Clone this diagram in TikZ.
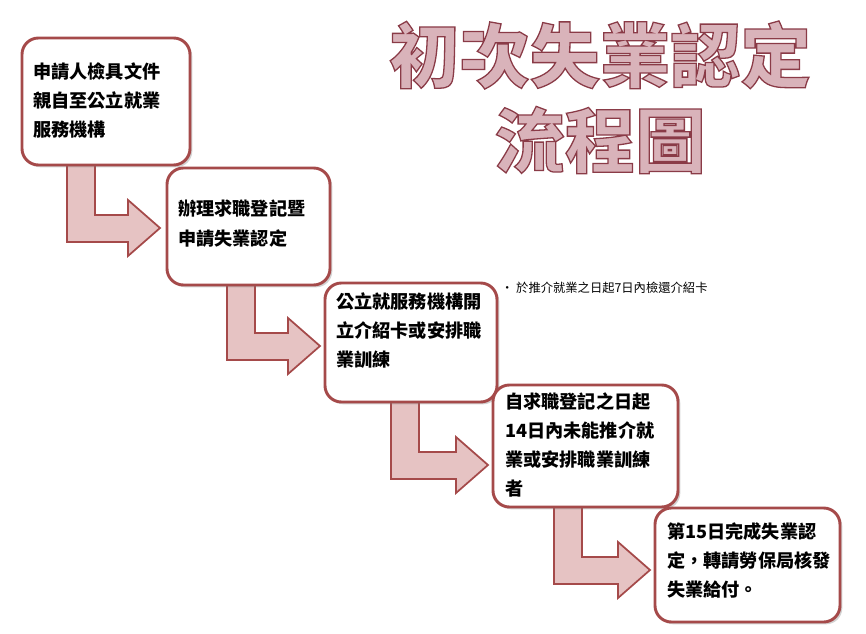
\documentclass[tikz,border=0pt]{standalone}
\usepackage{fontspec}
\setmainfont{Noto Sans CJK TC}
\newfontfamily\titlefont{Noto Sans CJK TC}
\usetikzlibrary{positioning,shadows}
\definecolor{boxred}{HTML}{A54A4A}
\definecolor{arrowpink}{HTML}{E6C3C3}
\definecolor{titlepink}{HTML}{D9B3BA}
\tikzset{
  stepbox/.style={draw=boxred,line width=2.5pt,fill=white,rounded corners=14pt,
    drop shadow={shadow xshift=2pt,shadow yshift=-2pt,opacity=.35}},
  steptext/.style={anchor=north west,align=left,font=\bfseries\fontsize{15.5}{25}\selectfont,
    inner sep=0pt},
  titletext/.style={font=\titlefont\bfseries\fontsize{60}{70}\selectfont,text=titlepink},
  bentarrow/.style={draw=boxred,line width=1.5pt,fill=arrowpink,line join=miter}
}
\newcommand{\bent}[3]{% #1 stem left x, #2 top y, #3 tip x
  \draw[bentarrow] (#1,#2) -- (#1+28,#2) -- (#1+28,#2+50) -- (#3-32,#2+50)
    -- (#3-32,#2+35) -- (#3,#2+63) -- (#3-32,#2+91) -- (#3-32,#2+77)
    -- (#1,#2+77) -- cycle;}
\newcommand{\outlined}[1]{\special{pdf:literal 2 Tr 1.1 w 0.54 0.23 0.28 RG}#1\special{pdf:literal 0 Tr}}
\begin{document}
\begin{tikzpicture}[x=0.03cm,y=-0.03cm]
\useasboundingbox (0,0) rectangle (866,633);
% title
\node[titletext] (title1) at (600,55) {\outlined{初次失業認定}};
\node[titletext] (title2) at (600,140) {\outlined{流程圖}};
% arrows
\bent{67}{165}{160}
\bent{227}{283}{320}
\bent{391}{402}{488}
\bent{554}{507}{650}
% boxes
\draw[stepbox] (22,38) rectangle (190,165);
\draw[stepbox] (167,168) rectangle (330,285);
\draw[stepbox] (325,283) rectangle (497,402);
\draw[stepbox] (493,385) rectangle (678,507);
\draw[stepbox] (655,508) rectangle (840,622);
% texts
\node[steptext] (s1) at (33,62) {申請人檢具文件\\親自至公立就業\\服務機構};
\node[steptext] (s2) at (178,200) {辦理求職登記暨\\申請失業認定};
\node[steptext] (s3) at (336,292) {公立就服務機構開\\立介紹卡或安排職\\業訓練};
\node[steptext] (s4) at (505,392) {自求職登記之日起\\14日內未能推介就\\業或安排職業訓練\\者};
\node[steptext] (s5) at (667,522) {第15日完成失業認\\定，轉請勞保局核發\\失業給付。};
\node[anchor=west,font=\fontsize{10.5}{12}\selectfont] (note) at (497,288) {• 於推介就業之日起7日內檢還介紹卡};
\end{tikzpicture}
\end{document}
